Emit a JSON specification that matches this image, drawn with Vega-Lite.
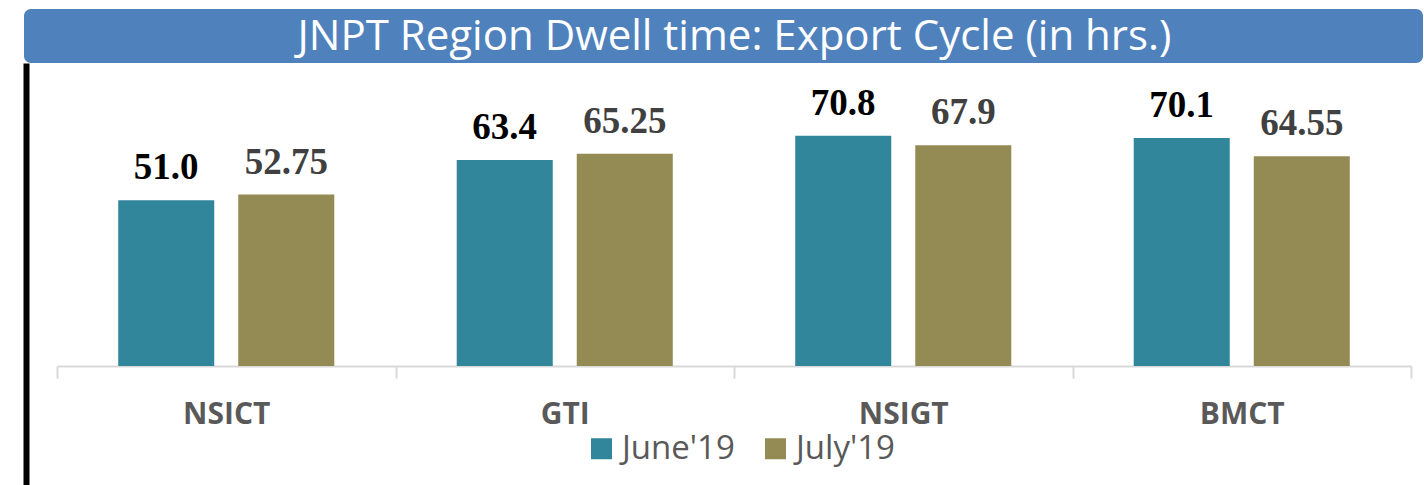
{
  "$schema": "https://vega.github.io/schema/vega-lite/v6.json",
  "padding": {"left": 24, "top": 9, "right": 0, "bottom": 0},
  "autosize": {"type": "pad"},
  "background": "white",
  "spacing": 0,
  "config": {"view": {"stroke": null}},
  "vconcat": [
    {
      "width": 1399,
      "height": 54,
      "view": {"fill": "#4F81BD", "stroke": null, "cornerRadius": 7},
      "data": {"values": [{"title": "JNPT Region Dwell time: Export Cycle (in hrs.)"}]},
      "mark": {"type": "text", "font": "Open Sans", "fontSize": 42, "color": "white", "dx": 11, "dy": 1, "baseline": "middle"},
      "encoding": {"text": {"field": "title", "type": "nominal"}}
    },
    {
      "width": 1399,
      "height": 422,
      "data": {
        "values": [
          {"terminal": "NSICT", "month": "June'19", "value": 51.0, "label": "51.0"},
          {"terminal": "NSICT", "month": "July'19", "value": 52.75, "label": "52.75"},
          {"terminal": "GTI", "month": "June'19", "value": 63.4, "label": "63.4"},
          {"terminal": "GTI", "month": "July'19", "value": 65.25, "label": "65.25"},
          {"terminal": "NSIGT", "month": "June'19", "value": 70.8, "label": "70.8"},
          {"terminal": "NSIGT", "month": "July'19", "value": 67.9, "label": "67.9"},
          {"terminal": "BMCT", "month": "June'19", "value": 70.1, "label": "70.1"},
          {"terminal": "BMCT", "month": "July'19", "value": 64.55, "label": "64.55"}
        ]
      },
      "encoding": {
        "x": {
          "field": "terminal",
          "type": "nominal",
          "sort": ["NSICT", "GTI", "NSIGT", "BMCT"],
          "scale": {"range": [33, 1387], "paddingInner": 0, "paddingOuter": 0},
          "axis": {
            "title": null,
            "orient": "bottom",
            "offset": -119,
            "tickBand": "extent",
            "domainColor": "#D9D9D9",
            "domainWidth": 2,
            "tickColor": "#D9D9D9",
            "tickWidth": 2,
            "tickSize": 12,
            "labelAngle": 0,
            "labelFont": "Open Sans",
            "labelFontWeight": "bold",
            "labelFontSize": 30,
            "labelColor": "#595959",
            "labelPadding": 21
          }
        },
        "xOffset": {
          "field": "month",
          "type": "nominal",
          "sort": ["June'19", "July'19"],
          "scale": {"paddingInner": 0.2, "paddingOuter": 0.51}
        },
        "y": {
          "field": "value",
          "type": "quantitative",
          "scale": {"domain": [-36.6, 93.2], "nice": false, "zero": false},
          "axis": {"title": null, "labels": false, "ticks": false, "grid": false, "domainColor": "black", "domainWidth": 6, "offset": -2}
        }
      },
      "layer": [
        {
          "mark": {"type": "bar"},
          "encoding": {
            "y2": {"datum": 0},
            "color": {
              "field": "month",
              "type": "nominal",
              "sort": ["June'19", "July'19"],
              "scale": {"domain": ["June'19", "July'19"], "range": ["#31869B", "#948A54"]},
              "legend": {
                "title": null,
                "orient": "none",
                "legendX": 561,
                "legendY": 369,
                "direction": "horizontal",
                "symbolType": "square",
                "symbolSize": 441,
                "symbolStrokeWidth": 0,
                "labelFont": "Open Sans",
                "labelFontSize": 33,
                "labelColor": "#595959",
                "labelOffset": 4,
                "columnPadding": 24
              }
            }
          }
        },
        {
          "mark": {"type": "text", "font": "Liberation Serif", "fontWeight": "bold", "fontSize": 37, "baseline": "alphabetic", "dy": -21},
          "encoding": {
            "text": {"field": "label", "type": "nominal"},
            "color": {
              "field": "month",
              "type": "nominal",
              "scale": {"domain": ["June'19", "July'19"], "range": ["#000000", "#404040"]},
              "legend": null
            }
          }
        }
      ],
      "resolve": {"scale": {"color": "independent"}}
    }
  ]
}
